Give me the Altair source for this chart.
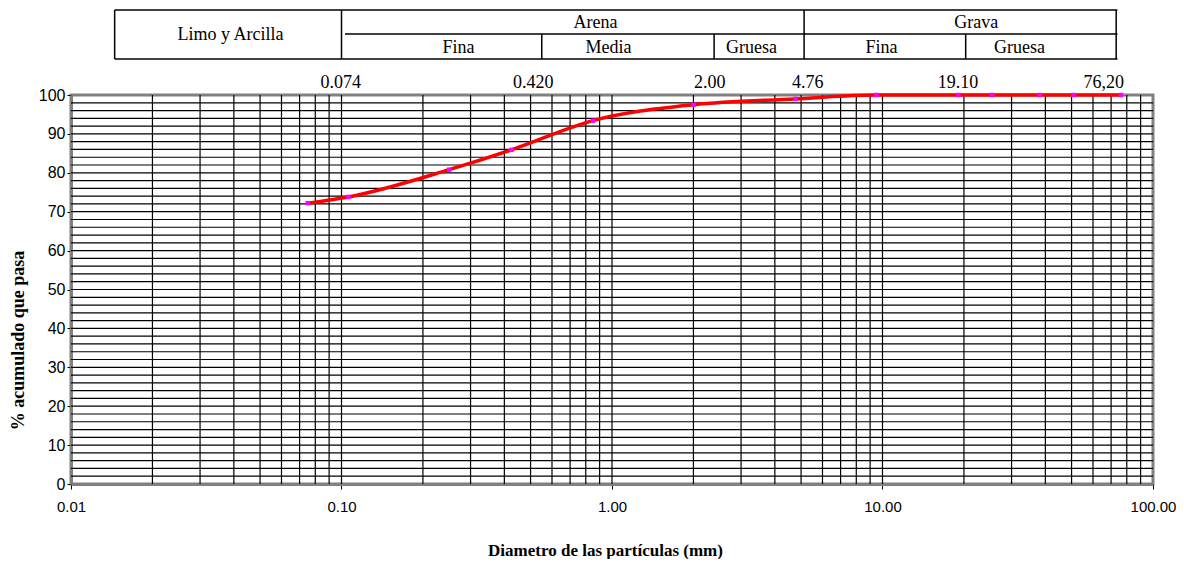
import altair as alt
import pandas as pd

# ---- data ----
diam_mm = [0.075, 0.106, 0.25, 0.425, 0.85, 2.0, 4.76, 9.5, 19.1, 25.4, 38.1, 50.8, 76.2]
pct_pasa = [72.2, 73.8, 80.8, 85.9, 93.4, 97.5, 99.0, 100, 100, 100, 100, 100, 100]

x_decades = [0.01, 0.1, 1, 10, 100]
y_ticks = list(range(0, 101, 10))
grid_mult = [1, 2, 3, 4, 5, 6, 7, 8, 9]
grid_decades = [0.01, 0.1, 1, 10]
grid_x = [round(m * d, 4) for d in grid_decades for m in grid_mult if not (m == 1 and d == 0.01)]
grid_y = list(range(2, 100, 2))

# classification table (anchors in mm on the log axis)
clase_main = ["Arena", "Grava"]
clase_main_mm = [0.869, 22.2]
clase_left = ["Limo y Arcilla"]
clase_left_mm = [0.0389]
sub_labels = ["Fina", "Media", "Gruesa", "Fina", "Gruesa"]
sub_mm = [0.2705, 0.97, 3.28, 9.91, 32.1]
sieve_labels = ["0.074", "0.420", "2.00", "4.76", "19.10", "76,20"]
sieve_mm = [0.0994, 0.511, 2.30, 5.29, 19.0, 65.8]
table_left_mm = 0.0145
table_line_end_mm = 73.9
table_mid_start_mm = 0.103
full_borders_mm = [0.0145, 0.1, 5.13, 73.1]
half_borders_mm = [0.55, 2.385, 20.3]

SANS = "Liberation Sans Narrow, Arial Narrow, Liberation Sans, sans-serif"
SERIF = "Liberation Serif, Times New Roman, serif"

xscale = alt.Scale(type="log", domain=[0.01, 100], nice=False)
yscale = alt.Scale(domain=[0, 100], nice=False, zero=True)

xaxis = alt.Axis(values=x_decades, format=".2f", grid=False, domainColor="#808080",
                 domainWidth=3, tickColor="black", tickSize=5, tickWidth=1,
                 labelFont=SANS, labelFontSize=15, labelColor="black", labelPadding=10,
                 labelFlush=False,
                 title="Diametro de las partículas (mm)", titleFont=SERIF,
                 titleFontWeight="bold", titleFontSize=17, titleColor="black",
                 titleX=534, titleY=66, titleBaseline="middle")
yaxis = alt.Axis(values=y_ticks, grid=False, domainColor="#808080", domainWidth=3,
                 tickColor="black", tickSize=4, tickWidth=1, labelFont=SANS,
                 labelFontSize=16, labelColor="black", labelPadding=2,
                 title="% acumulado que pasa", titleFont=SERIF, titleFontWeight="bold",
                 titleFontSize=18, titleColor="black", titleX=-53, titleY=245,
                 titleBaseline="middle")


def X(field):
    return alt.X(field, scale=xscale, axis=xaxis)


def Y(field):
    return alt.Y(field, scale=yscale, axis=yaxis)


curve = pd.DataFrame({"d": diam_mm, "p": pct_pasa})

grid_v = alt.Chart(pd.DataFrame({"v": grid_x})).mark_rule(color="#000", strokeWidth=1.2).encode(
    x=X("v:Q")
)
grid_h = alt.Chart(pd.DataFrame({"v": grid_y})).mark_rule(color="#000", strokeWidth=1.2).encode(
    y=Y("v:Q")
)

# table lines
hl = pd.DataFrame({"a": [table_left_mm, table_mid_start_mm, table_left_mm],
                   "b": [table_line_end_mm] * 3,
                   "row": ["top", "mid", "bottom"]})
row_px = {"top": -85, "mid": -61, "bottom": -36}
table_h = []
for r in ["top", "mid", "bottom"]:
    table_h.append(
        alt.Chart(hl[hl.row == r]).mark_rule(color="black", strokeWidth=1.5).encode(
            x=X("a:Q"), x2="b:Q", y=alt.value(row_px[r])
        )
    )
table_vfull = alt.Chart(pd.DataFrame({"v": full_borders_mm})).mark_rule(color="black", strokeWidth=1.5).encode(
    x=X("v:Q"), y=alt.value(row_px["top"]), y2=alt.value(row_px["bottom"])
)
table_vhalf = alt.Chart(pd.DataFrame({"v": half_borders_mm})).mark_rule(color="black", strokeWidth=1.5).encode(
    x=X("v:Q"), y=alt.value(row_px["mid"]), y2=alt.value(row_px["bottom"])
)


def text_layer(labels, pos, ypx):
    return alt.Chart(pd.DataFrame({"label": labels, "pos": pos})).mark_text(
        font=SERIF, fontSize=18, color="black", baseline="middle", align="center"
    ).encode(x=X("pos:Q"), y=alt.value(ypx), text="label:N")


t_main = text_layer(clase_main, clase_main_mm, -72)
t_left = text_layer(clase_left, clase_left_mm, -60)
t_sub = text_layer(sub_labels, sub_mm, -47)
t_sieve = text_layer(sieve_labels, sieve_mm, -12)

line = alt.Chart(curve).mark_line(color="#FF0000", strokeWidth=3.5, interpolate="monotone").encode(
    x=X("d:Q"), y=Y("p:Q")
)
points = alt.Chart(curve).mark_square(color="#FF00FF", size=20, opacity=1).encode(
    x=X("d:Q"), y=Y("p:Q")
)

chart = alt.layer(
    grid_v, grid_h, *table_h, table_vfull, table_vhalf, t_main, t_left, t_sub, t_sieve, line, points
).properties(
    width=1082, height=389,
    autosize=alt.AutoSizeParams(type="none"),
    padding={"left": 63, "top": 87, "right": 23, "bottom": 75},
    background="white",
).configure_view(stroke="#808080", strokeWidth=3)

chart.save("out.html", embed_options={"renderer": "svg", "actions": False})
